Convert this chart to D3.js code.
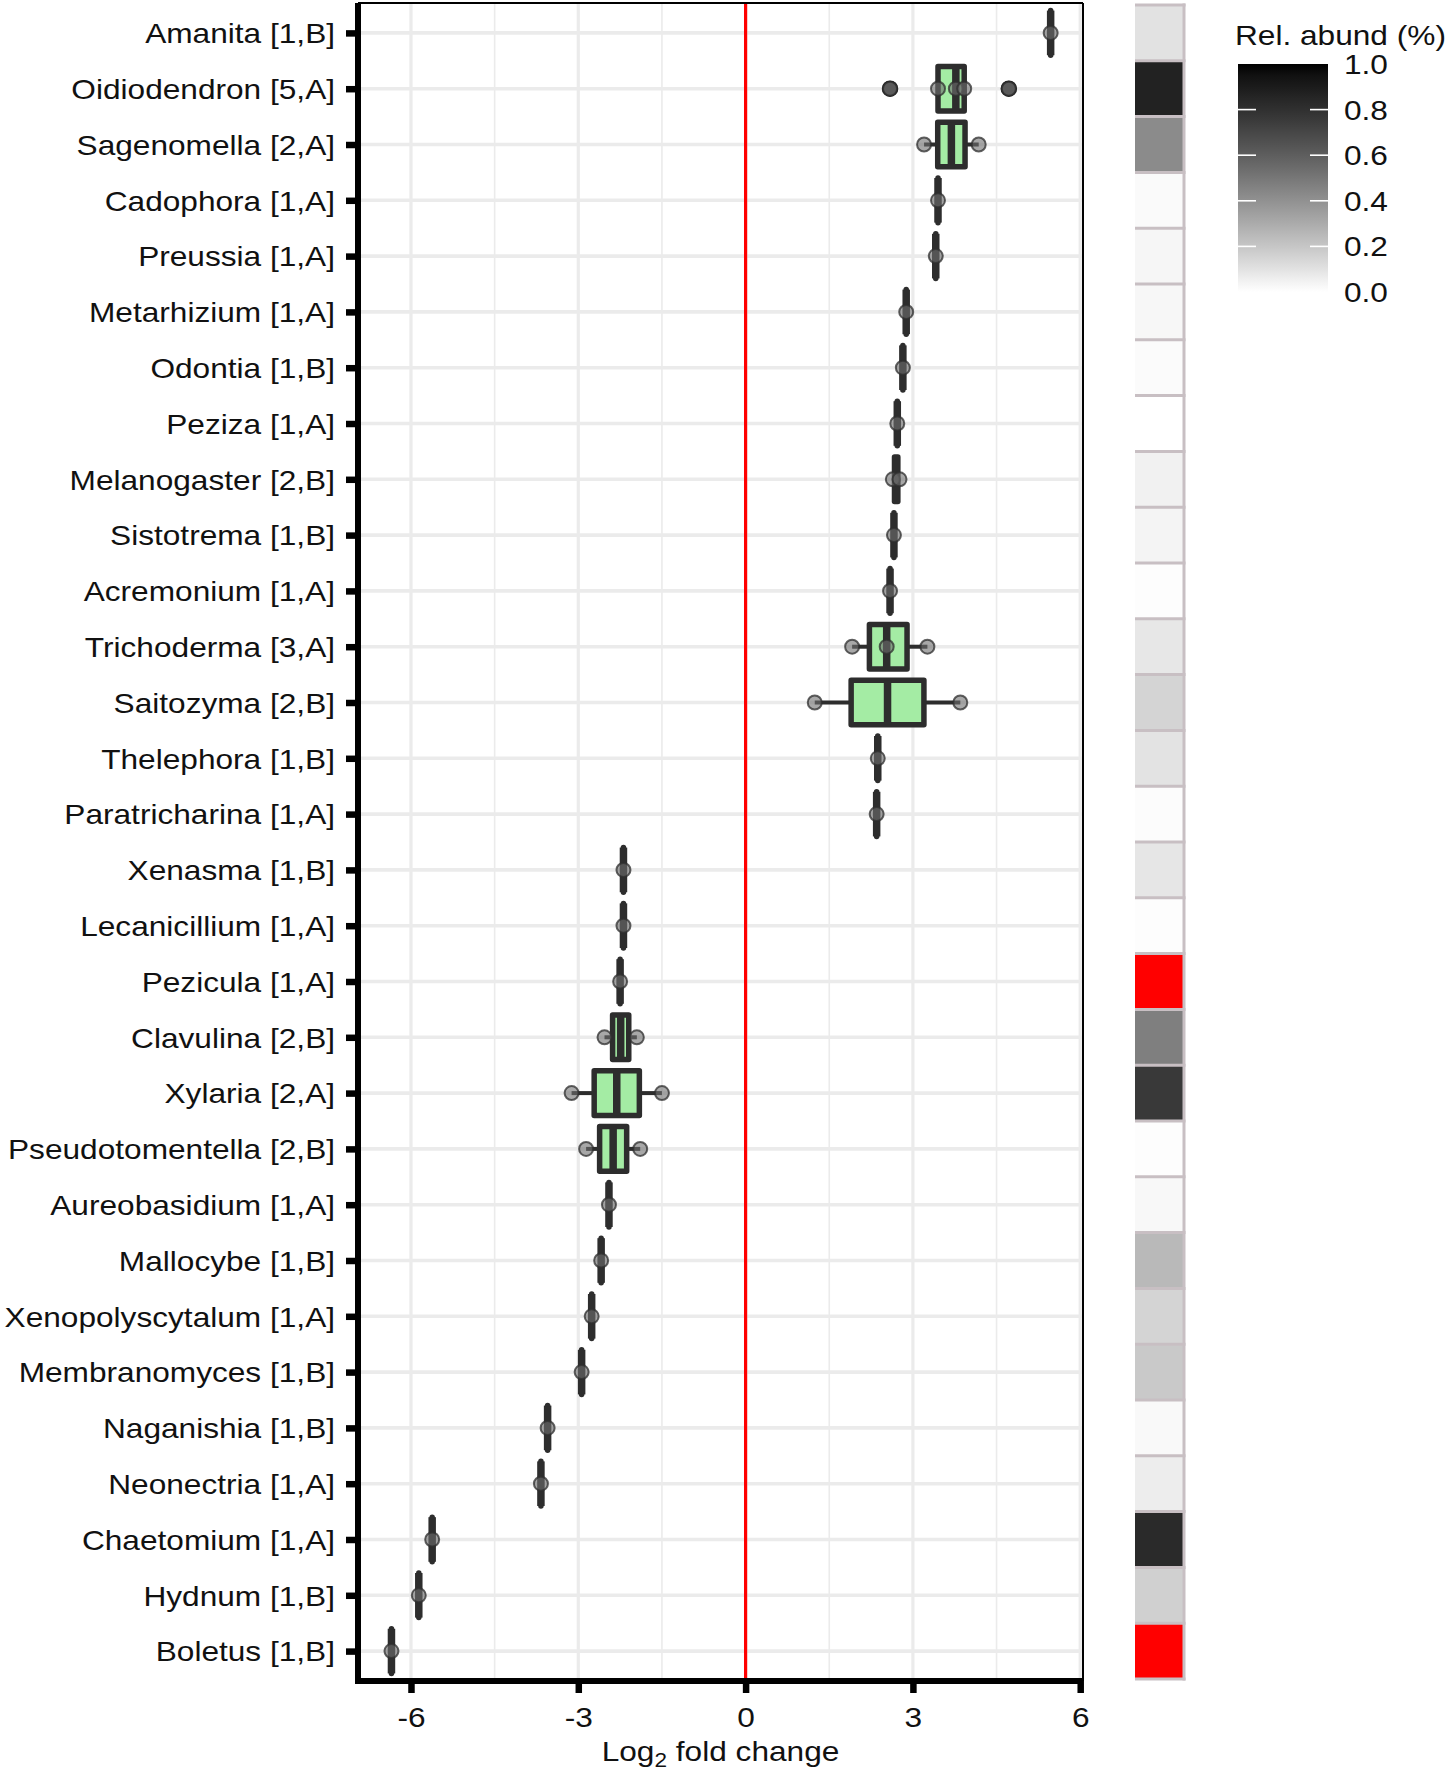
<!DOCTYPE html>
<html>
<head>
<meta charset="utf-8">
<script src="https://cdn.jsdelivr.net/npm/d3@7"></script>
<style>
  html, body { margin: 0; padding: 0; background: #ffffff; }
  svg { display: block; }
</style>
</head>
<body>
<div id="chart"></div>
<script>
// ---------------- DATA ----------------
const taxa = [
  "Amanita [1,B]", "Oidiodendron [5,A]", "Sagenomella [2,A]", "Cadophora [1,A]",
  "Preussia [1,A]", "Metarhizium [1,A]", "Odontia [1,B]", "Peziza [1,A]",
  "Melanogaster [2,B]", "Sistotrema [1,B]", "Acremonium [1,A]", "Trichoderma [3,A]",
  "Saitozyma [2,B]", "Thelephora [1,B]", "Paratricharina [1,A]", "Xenasma [1,B]",
  "Lecanicillium [1,A]", "Pezicula [1,A]", "Clavulina [2,B]", "Xylaria [2,A]",
  "Pseudotomentella [2,B]", "Aureobasidium [1,A]", "Mallocybe [1,B]", "Xenopolyscytalum [1,A]",
  "Membranomyces [1,B]", "Naganishia [1,B]", "Neonectria [1,A]", "Chaetomium [1,A]",
  "Hydnum [1,B]", "Boletus [1,B]"
];

// log2 fold change of each OTU within the genus
const lfcValues = [
  [5.47],
  [2.59, 3.45, 3.77, 3.92, 4.72],
  [3.20, 4.18],
  [3.45],
  [3.41],
  [2.88],
  [2.82],
  [2.72],
  [2.64, 2.76],
  [2.66],
  [2.59],
  [1.91, 2.53, 3.26],
  [1.24, 3.85],
  [2.37],
  [2.35],
  [-2.19],
  [-2.19],
  [-2.25],
  [-2.53, -1.95],
  [-3.12, -1.50],
  [-2.86, -1.89],
  [-2.45],
  [-2.59],
  [-2.76],
  [-2.94],
  [-3.55],
  [-3.67],
  [-5.62],
  [-5.86],
  [-6.35]
];

// relative abundance (%) ; null = out of scale (drawn red)
const relAbund = [
  0.10, 0.87, 0.42, 0.017, 0.03, 0.028, 0.013, 0.0, 0.05, 0.038,
  0.007, 0.085, 0.15, 0.097, 0.01, 0.088, 0.007, null, 0.47, 0.76,
  0.007, 0.025, 0.25, 0.15, 0.19, 0.02, 0.064, 0.83, 0.165, null
];

const xTicks = [-6, -3, 0, 3, 6];
const xMinorTicks = [-4.5, -1.5, 1.5, 4.5];
const legendTicks = [0.0, 0.2, 0.4, 0.6, 0.8, 1.0];
const xTitle = "Log";
const xTitleSub = "2";
const xTitleRest = " fold change";
const legendTitle = "Rel. abund (%)";

// ---------------- LAYOUT ----------------
const W = 1450, H = 1775;
const panel = { left: 358, right: 1083, top: 3, bottom: 1681 };
const FONT = "'Liberation Sans', Arial, Helvetica, sans-serif";
const FS = 28;
const SX = 1.13; // horizontal text stretch of the original figure

const svg = d3.select("#chart").append("svg")
  .attr("width", W).attr("height", H)
  .attr("viewBox", `0 0 ${W} ${H}`);

svg.append("rect").attr("width", W).attr("height", H).attr("fill", "#ffffff");

const x = d3.scaleLinear().domain([-6.95, 6.05]).range([panel.left, panel.right]);
const y = d3.scalePoint().domain(taxa).range([panel.top, panel.bottom]).padding(0.536);
const step = y.step();

// ---------------- GRID ----------------
const grid = svg.append("g");
grid.selectAll("line.minor").data(xMinorTicks).join("line")
  .attr("x1", d => x(d)).attr("x2", d => x(d))
  .attr("y1", panel.top).attr("y2", panel.bottom)
  .attr("stroke", "#ebebeb").attr("stroke-width", 1.6);
grid.selectAll("line.major").data(xTicks).join("line")
  .attr("x1", d => x(d)).attr("x2", d => x(d))
  .attr("y1", panel.top).attr("y2", panel.bottom)
  .attr("stroke", "#ebebeb").attr("stroke-width", 3.2);
grid.selectAll("line.h").data(taxa).join("line")
  .attr("x1", panel.left).attr("x2", panel.right)
  .attr("y1", d => y(d)).attr("y2", d => y(d))
  .attr("stroke", "#ebebeb").attr("stroke-width", 3.6);

// zero line
svg.append("line")
  .attr("x1", x(0)).attr("x2", x(0))
  .attr("y1", panel.top).attr("y2", panel.bottom)
  .attr("stroke", "#ff0000").attr("stroke-width", 3.2);

// ---------------- BOXPLOTS ----------------
const stats = taxa.map((t, i) => {
  const v = lfcValues[i].slice().sort(d3.ascending);
  const q1 = d3.quantile(v, 0.25), med = d3.quantile(v, 0.5), q3 = d3.quantile(v, 0.75);
  const iqr = q3 - q1;
  const lo = q1 - 1.5 * iqr, hi = q3 + 1.5 * iqr;
  const inside = v.filter(d => d >= lo && d <= hi);
  return {
    taxon: t, values: v, q1, med, q3,
    wlo: d3.min(inside), whi: d3.max(inside),
    outliers: v.filter(d => d < lo || d > hi)
  };
});

const boxH = step * 0.8;
const BOXC = "#2d2d2d";
const gBox = svg.append("g");
stats.forEach(s => {
  const cy = y(s.taxon);
  const g = gBox.append("g");
  // whiskers
  g.append("line").attr("x1", x(s.wlo)).attr("x2", x(s.q1)).attr("y1", cy).attr("y2", cy)
    .attr("stroke", BOXC).attr("stroke-width", 4);
  g.append("line").attr("x1", x(s.q3)).attr("x2", x(s.whi)).attr("y1", cy).attr("y2", cy)
    .attr("stroke", BOXC).attr("stroke-width", 4);
  // box
  g.append("rect")
    .attr("x", x(s.q1)).attr("width", Math.max(0.001, x(s.q3) - x(s.q1)))
    .attr("y", cy - boxH / 2).attr("height", boxH)
    .attr("fill", "#a4eca4").attr("stroke", BOXC).attr("stroke-width", 5.5)
    .attr("stroke-linejoin", "round");
  // median
  g.append("line").attr("x1", x(s.med)).attr("x2", x(s.med))
    .attr("y1", cy - boxH / 2).attr("y2", cy + boxH / 2)
    .attr("stroke", BOXC).attr("stroke-width", 7.5);
  // outliers
  s.outliers.forEach(o => {
    g.append("circle").attr("cx", x(o)).attr("cy", cy).attr("r", 7.5)
      .attr("fill", "#3c3c3c").attr("stroke", "#1e1e1e").attr("stroke-width", 1.5);
  });
});

// individual points
const gPts = svg.append("g");
stats.forEach(s => {
  const cy = y(s.taxon);
  s.values.forEach(v => {
    gPts.append("circle").attr("cx", x(v)).attr("cy", cy).attr("r", 7)
      .attr("fill", "rgba(110,110,110,0.6)")
      .attr("stroke", "rgba(45,45,45,0.75)").attr("stroke-width", 2);
  });
});

// ---------------- AXES ----------------
const yAxis = svg.append("g")
  .attr("transform", `translate(${panel.left},0)`)
  .call(d3.axisLeft(y).tickSize(12).tickPadding(11));
yAxis.select(".domain").remove();
yAxis.selectAll(".tick line").attr("stroke", "#000").attr("stroke-width", 6.5).attr("x2", -12);
yAxis.selectAll(".tick text")
  .attr("x", -23 / SX).attr("dy", "0.35em")
  .attr("transform", `scale(${SX},1)`)
  .attr("fill", "#111").style("font-family", FONT).style("font-size", FS + "px");

const xAxis = svg.append("g")
  .attr("transform", `translate(0,${panel.bottom})`)
  .call(d3.axisBottom(x).tickValues(xTicks).tickFormat(d => String(d)).tickSize(12).tickPadding(14));
xAxis.select(".domain").remove();
xAxis.selectAll(".tick line").attr("stroke", "#000").attr("stroke-width", 6.5);
xAxis.selectAll(".tick text")
  .attr("transform", `scale(${SX},1)`)
  .attr("fill", "#111").style("font-family", FONT).style("font-size", FS + "px");

// axis lines + panel border
svg.append("line").attr("x1", panel.left).attr("x2", panel.left)
  .attr("y1", panel.top).attr("y2", panel.bottom + 3)
  .attr("stroke", "#000").attr("stroke-width", 6);
svg.append("line").attr("x1", panel.left - 3).attr("x2", panel.right)
  .attr("y1", panel.bottom).attr("y2", panel.bottom)
  .attr("stroke", "#000").attr("stroke-width", 6);
svg.append("line").attr("x1", panel.left).attr("x2", panel.right)
  .attr("y1", panel.top).attr("y2", panel.top)
  .attr("stroke", "#000").attr("stroke-width", 2);
svg.append("line").attr("x1", panel.right).attr("x2", panel.right)
  .attr("y1", panel.top).attr("y2", panel.bottom)
  .attr("stroke", "#000").attr("stroke-width", 2);

// x title
const title = svg.append("text")
  .attr("transform", `translate(${(panel.left + panel.right) / 2},1761) scale(${SX},1)`)
  .attr("text-anchor", "middle").attr("fill", "#111")
  .style("font-family", FONT).style("font-size", FS + "px");
title.append("tspan").text(xTitle);
title.append("tspan").attr("dy", 6).style("font-size", "20px").text(xTitleSub);
title.append("tspan").attr("dy", -6).text(xTitleRest);

// ---------------- HEATMAP COLUMN ----------------
const fillScale = d3.scaleLinear().domain([0, 1]).range(["#ffffff", "#000000"])
  .interpolate(d3.interpolateLab);
const hm = { left: 1135, right: 1184 };
const BORDER = "#c8bfc3";
const gHm = svg.append("g");
gHm.selectAll("rect").data(taxa).join("rect")
  .attr("x", hm.left).attr("width", hm.right - hm.left)
  .attr("y", d => y(d) - step / 2).attr("height", step)
  .attr("fill", (d, i) => relAbund[i] == null ? "#ff0000" : fillScale(relAbund[i]));
gHm.selectAll("line.sep").data(taxa.concat(["__end"])).join("line")
  .attr("x1", hm.left).attr("x2", hm.right + 1.5)
  .attr("y1", (d, i) => (i < taxa.length ? y(d) - step / 2 : y(taxa[taxa.length - 1]) + step / 2))
  .attr("y2", (d, i) => (i < taxa.length ? y(d) - step / 2 : y(taxa[taxa.length - 1]) + step / 2))
  .attr("stroke", BORDER).attr("stroke-width", 3);
gHm.append("line")
  .attr("x1", hm.right).attr("x2", hm.right)
  .attr("y1", y(taxa[0]) - step / 2 - 1.5).attr("y2", y(taxa[taxa.length - 1]) + step / 2 + 1.5)
  .attr("stroke", BORDER).attr("stroke-width", 3);

// ---------------- LEGEND ----------------
const lg = { left: 1238, right: 1328, top: 64, bottom: 292 };
const ly = d3.scaleLinear().domain([0, 1]).range([lg.bottom, lg.top]);
const defs = svg.append("defs");
const grad = defs.append("linearGradient").attr("id", "lgGrad")
  .attr("x1", 0).attr("y1", 1).attr("x2", 0).attr("y2", 0);
d3.range(0, 1.0001, 0.05).forEach(t => {
  grad.append("stop").attr("offset", t).attr("stop-color", fillScale(t));
});
svg.append("rect")
  .attr("x", lg.left).attr("y", ly(1)).attr("width", lg.right - lg.left)
  .attr("height", ly(0) - ly(1)).attr("fill", "url(#lgGrad)");
const innerTicks = legendTicks.filter(d => d > 0 && d < 1);
svg.selectAll("line.lgl").data(innerTicks).join("line")
  .attr("x1", lg.left).attr("x2", lg.left + 18)
  .attr("y1", d => ly(d)).attr("y2", d => ly(d))
  .attr("stroke", "#ffffff").attr("stroke-width", 1.6);
svg.selectAll("line.lgr").data(innerTicks).join("line")
  .attr("x1", lg.right - 18).attr("x2", lg.right)
  .attr("y1", d => ly(d)).attr("y2", d => ly(d))
  .attr("stroke", "#ffffff").attr("stroke-width", 1.6);
svg.selectAll("text.lgt").data(legendTicks).join("text")
  .attr("transform", d => `translate(1344,${ly(d)}) scale(${SX},1)`)
  .attr("dy", "0.36em").attr("fill", "#111")
  .style("font-family", FONT).style("font-size", FS + "px")
  .text(d => d.toFixed(1));
svg.append("text")
  .attr("transform", `translate(${lg.left - 3},45) scale(${SX},1)`)
  .attr("fill", "#111")
  .style("font-family", FONT).style("font-size", FS + "px")
  .text(legendTitle);
</script>
</body>
</html>
